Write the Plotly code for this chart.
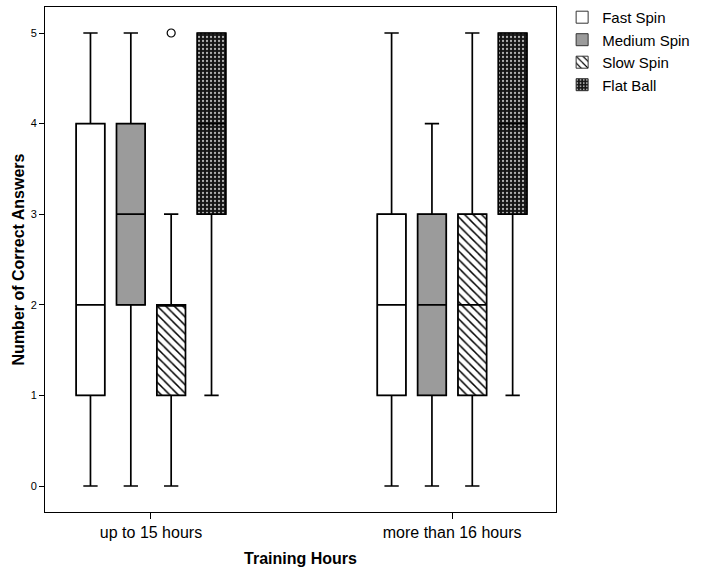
import plotly.graph_objects as go

categories = ["up to 15 hours", "more than 16 hours"]
series = ["Fast Spin", "Medium Spin", "Slow Spin", "Flat Ball"]

lowerfence = {"Fast Spin": [0, 0], "Medium Spin": [0, 0], "Slow Spin": [0, 0], "Flat Ball": [1, 1]}
q1 = {"Fast Spin": [1, 1], "Medium Spin": [2, 1], "Slow Spin": [1, 1], "Flat Ball": [3, 3]}
median = {"Fast Spin": [2, 2], "Medium Spin": [3, 2], "Slow Spin": [2, 2], "Flat Ball": [4, 4]}
q3 = {"Fast Spin": [4, 3], "Medium Spin": [4, 3], "Slow Spin": [2, 3], "Flat Ball": [5, 5]}
upperfence = {"Fast Spin": [5, 5], "Medium Spin": [5, 4], "Slow Spin": [3, 5], "Flat Ball": [5, 5]}
# outlying observations per box (only Slow Spin, up to 15 hours, has one)
outliers = {"Fast Spin": None, "Medium Spin": None, "Slow Spin": [[5], []], "Flat Ball": None}

styles = {
    "Fast Spin": dict(color="white", pattern=dict(shape="")),
    "Medium Spin": dict(color="#9b9b9b", pattern=dict(shape="")),
    "Slow Spin": dict(color="white", pattern=dict(shape="\\", fgcolor="black", bgcolor="white",
                                                   size=6, solidity=0.25, fillmode="replace")),
    "Flat Ball": dict(color="#151515", pattern=dict(shape=".", fgcolor="#b0b0b0", bgcolor="#151515",
                                                    size=4, solidity=0.25, fillmode="replace")),
}

FONT = "Liberation Sans, Arial, sans-serif"
GAP = 0.464
GROUPGAP = 0.29

fig = go.Figure()

for s in series:
    st = styles[s]
    fig.add_trace(go.Bar(
        name=s,
        x=categories,
        y=[b - a for a, b in zip(q1[s], q3[s])],
        base=q1[s],
        offsetgroup=s,
        alignmentgroup="g",
        marker=dict(color=st["color"], pattern=st["pattern"],
                    line=dict(color="#333333", width=1)),
        showlegend=True,
        hoverinfo="skip",
    ))

for s in series:
    kw = {}
    if outliers[s] is not None:
        kw["y"] = outliers[s]
        kw["boxpoints"] = "outliers"
    else:
        kw["boxpoints"] = False
    fig.add_trace(go.Box(
        name=s,
        x=categories,
        q1=q1[s],
        median=median[s],
        q3=q3[s],
        lowerfence=lowerfence[s],
        upperfence=upperfence[s],
        offsetgroup=s,
        alignmentgroup="g",
        fillcolor="rgba(0,0,0,0)",
        line=dict(color="black", width=1.7),
        whiskerwidth=0.5,
        marker=dict(symbol="circle-open", size=8, color="black", line=dict(width=1.2)),
        showlegend=False,
        **kw,
    ))

fig.update_layout(
    width=710, height=574,
    margin=dict(l=45, r=154, t=7, b=62, autoexpand=False),
    paper_bgcolor="white", plot_bgcolor="white",
    barmode="group", bargap=GAP, bargroupgap=GROUPGAP,
    boxmode="group", boxgap=GAP, boxgroupgap=GROUPGAP,
    font=dict(family=FONT, color="black"),
    legend=dict(x=1.012, y=1.012, xanchor="left", yanchor="top",
                font=dict(size=15, family=FONT), tracegroupgap=0,
                bgcolor="rgba(0,0,0,0)", itemclick=False),
    showlegend=True,
)

fig.update_xaxes(
    type="category", range=[-0.352, 1.345],
    showline=True, mirror=True, linecolor="black", linewidth=1,
    ticks="outside", ticklen=6, tickcolor="black",
    showgrid=False, zeroline=False, automargin=False,
    tickfont=dict(size=16, family=FONT),
    title=dict(text="<b>Training Hours</b>", font=dict(size=16, family=FONT), standoff=12),
)
fig.update_yaxes(
    range=[-0.287, 5.287], tickvals=[0, 1, 2, 3, 4, 5],
    showline=True, mirror=True, linecolor="black", linewidth=1,
    ticks="outside", ticklen=5, tickcolor="black",
    showgrid=False, zeroline=False, automargin=False,
    tickfont=dict(size=11, family=FONT),
    title=dict(text="<b>Number of Correct Answers</b>", font=dict(size=16, family=FONT), standoff=2),
)

fig.write_html("out.html", config={"displayModeBar": False},
               post_script="document.body.style.margin='0';")
